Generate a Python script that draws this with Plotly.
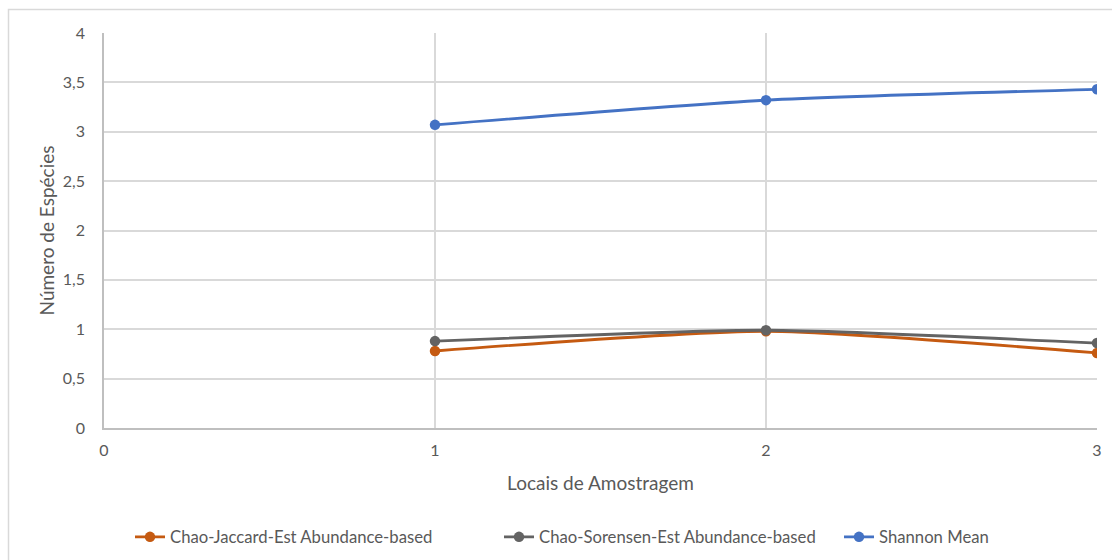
import plotly.graph_objects as go

# Sampling sites and estimator values
locais = [1, 2, 3]
chao_jaccard = [0.78, 0.98, 0.76]
chao_sorensen = [0.88, 0.99, 0.86]
shannon_mean = [3.07, 3.32, 3.43]

x_ticks = [0, 1, 2, 3]
x_tick_text = ["0", "1", "2", "3"]
y_ticks = [0, 0.5, 1, 1.5, 2, 2.5, 3, 3.5, 4]
y_tick_text = ["0", "0,5", "1", "1,5", "2", "2,5", "3", "3,5", "4"]

series = [
    ("Chao-Jaccard-Est Abundance-based", chao_jaccard, "#C55A11", "legend"),
    ("Chao-Sorensen-Est Abundance-based", chao_sorensen, "#636363", "legend2"),
    ("Shannon Mean", shannon_mean, "#4472C4", "legend3"),
]

FONT = "Lato, Calibri, Carlito, sans-serif"
TXT = "#595959"

fig = go.Figure()
for name, vals, color, leg in series:
    fig.add_trace(go.Scatter(
        x=locais, y=vals, name=name, mode="lines+markers",
        line=dict(color=color, width=2.8, shape="spline", smoothing=0.6),
        marker=dict(color=color, size=10.5),
        legend=leg,
    ))

# plot area spans px 104..1097 horizontally and 33..428 vertically
W, H = 1112, 560
L, R, T, B = 104, 1112 - 1097, 33, 560 - 428
pw, ph = W - L - R, H - T - B

def px_x(p):
    return (p - L) / pw

def px_y(p):
    return (H - B - p) / ph

leg_common = dict(orientation="h", yanchor="middle", xanchor="left",
                  font=dict(family=FONT, size=16.7, color=TXT),
                  bgcolor="rgba(0,0,0,0)", itemwidth=30,
                  tracegroupgap=0)

fig.update_layout(
    width=W, height=H,
    margin=dict(l=L, r=R, t=T, b=B, autoexpand=False),
    paper_bgcolor="white", plot_bgcolor="white",
    font=dict(family=FONT, size=16, color=TXT),
    showlegend=True,
    legend=dict(x=px_x(130), y=px_y(537), **leg_common),
    legend2=dict(x=px_x(499), y=px_y(537), **leg_common),
    legend3=dict(x=px_x(839), y=px_y(537), **leg_common),
    xaxis=dict(
        range=[0, 3], tickvals=x_ticks, ticktext=x_tick_text,
        showgrid=True, gridcolor="#D9D9D9", gridwidth=1.5,
        showline=True, linecolor="#BFBFBF", linewidth=1.5,
        zeroline=False, automargin=False,
        ticks="outside", ticklen=7, tickcolor="rgba(0,0,0,0)",
        tickfont=dict(family=FONT, size=16, color=TXT),
        title=dict(text="Locais de Amostragem", standoff=19,
                   font=dict(family=FONT, size=19, color=TXT)),
    ),
    yaxis=dict(
        range=[0, 4], tickvals=y_ticks, ticktext=y_tick_text,
        showgrid=True, gridcolor="#D9D9D9", gridwidth=1.5,
        showline=True, linecolor="#BFBFBF", linewidth=1.5,
        zeroline=False, automargin=False,
        ticks="outside", ticklen=14, tickcolor="rgba(0,0,0,0)",
        tickfont=dict(family=FONT, size=16, color=TXT),
        title=dict(text="Número de Espécies", standoff=3,
                   font=dict(family=FONT, size=19, color=TXT)),
    ),
    shapes=[dict(
        type="rect", xref="paper", yref="paper", layer="below",
        x0=px_x(8.5), x1=px_x(1130), y0=px_y(580), y1=px_y(9.5),
        line=dict(color="#D9D9D9", width=1.5), fillcolor="rgba(0,0,0,0)",
    )],
)

fig.write_html("out.html")
